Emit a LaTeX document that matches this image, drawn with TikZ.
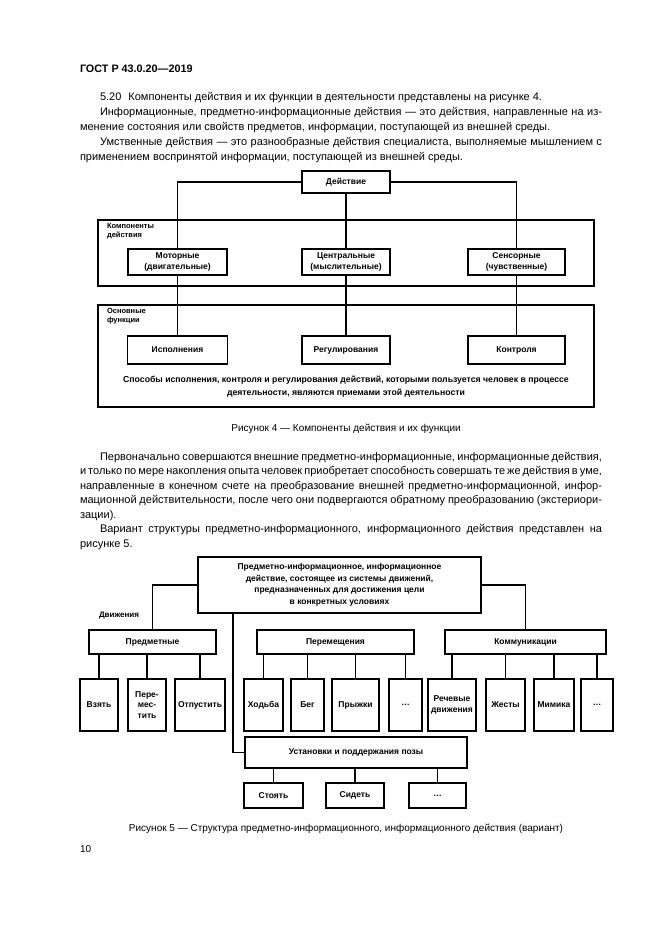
\documentclass[tikz,border=0pt]{standalone}
\usepackage{fontspec}
\setmainfont{Liberation Sans}
\newcommand{\jfull}[1]{\makebox[522pt][s]{#1}}
\newcommand{\jind}[1]{\makebox[502pt][s]{#1}}
\begin{document}
\begin{tikzpicture}[x=1pt,y=-1pt,
  every node/.style={inner sep=0pt, outer sep=0pt},
  body/.style={anchor=base west, font=\fontsize{11}{15}\selectfont},
  figcaption/.style={anchor=base, font=\fontsize{10}{12}\selectfont},
  dtext/.style={font=\fontsize{8.5}{10.5}\selectfont\bfseries, align=center},
  hbox/.style={draw, line width=1.8pt, dtext},
  lbox/.style={draw, line width=1.3pt, dtext},
  frame/.style={line width=1.3pt},
  lab/.style={anchor=north west, align=left, font=\fontsize{7.5}{9.5}\selectfont\bfseries},
  conn/.style={line width=1.2pt},
  tconn/.style={line width=1.9pt},
]
\useasboundingbox (0,0) rectangle (661,935);
\fill[white] (0,0) rectangle (661,935);

% header
\node[anchor=base west, font=\fontsize{10.8}{13}\selectfont\bfseries] (hdr) at (80,72) {ГОСТ Р 43.0.20—2019};

% paragraph 1
\node[body] (p1a) at (100,100) {5.20\hspace{4pt} Компоненты действия и их функции в деятельности представлены на рисунке 4.};
\node[body] (p1b) at (100,115) {\jind{Информационные, предметно-информационные действия — это действия, направленные на из-}};
\node[body] (p1c) at (80,130) {менение состояния или свойств предметов, информации, поступающей из внешней среды.};
\node[body] (p1d) at (100,145) {\jind{Умственные действия — это разнообразные действия специалиста, выполняемые мышлением с}};
\node[body] (p1e) at (80,160) {применением воспринятой информации, поступающей из внешней среды.};

% ---------- Figure 4 ----------
\node[hbox, minimum width=88, minimum height=22] (act) at (346,182) {Действие};
\draw[frame] (98,220) rectangle (594,286);
\node[lab] (complab) at (107,223) {Компоненты\\действия};
\node[hbox, minimum width=99, minimum height=26] (mot) at (177.5,262) {Моторные\\(двигательные)};
\node[hbox, minimum width=88, minimum height=26] (cen) at (346,262) {Центральные\\(мыслительные)};
\node[hbox, minimum width=97, minimum height=26] (sen) at (516.5,262) {Сенсорные\\(чувственные)};
\draw[frame] (98,305) rectangle (594,407);
\node[lab] (funlab) at (107,308) {Основные\\функции};
\node[hbox, minimum width=100, minimum height=28] (isp) at (177.5,350) {Исполнения};
\node[hbox, minimum width=88, minimum height=28] (reg) at (346,350) {Регулирования};
\node[hbox, minimum width=97, minimum height=28] (kon) at (516.5,350) {Контроля};
\node[dtext, font=\fontsize{8.7}{13}\selectfont\bfseries] (way) at (346,387) {Способы исполнения, контроля и регулирования действий, которыми пользуется человек в процессе\\деятельности, являются приемами этой деятельности};

\draw[conn, line width=1.5pt] (act.west) -| (mot.north);
\draw[conn, line width=1.5pt] (act.east) -| (sen.north);
\draw[tconn] (act.south) -- (cen.north);
\draw[conn, line width=1.5pt] (mot.south) -- (isp.north);
\draw[tconn] (cen.south) -- (reg.north);
\draw[conn, line width=1.5pt] (sen.south) -- (kon.north);

\node[figcaption] (cap4) at (346,431) {Рисунок 4 — Компоненты действия и их функции};

% paragraph 2
\node[body] (p2a) at (100,460) {\jind{Первоначально совершаются внешние предметно-информационные, информационные действия,}};
\node[body] (p2b) at (80,474.5) {\jfull{и только по мере накопления опыта человек приобретает способность совершать те же действия в уме,}};
\node[body] (p2c) at (80,489) {\jfull{направленные в конечном счете на преобразование внешней предметно-информационной, инфор-}};
\node[body] (p2d) at (80,503.5) {\jfull{мационной действительности, после чего они подвергаются обратному преобразованию (экстериори-}};
\node[body] (p2e) at (80,518) {зации).};
\node[body] (p2f) at (100,532.5) {\jind{Вариант структуры предметно-информационного, информационного действия представлен на}};
\node[body] (p2g) at (80,547) {рисунке 5.};

% ---------- Figure 5 ----------
\node[hbox, minimum width=283, minimum height=56, font=\fontsize{8.5}{11.5}\selectfont\bfseries] (top) at (339.5,585) {Предметно-информационное, информационное\\действие, состоящее из системы движений,\\предназначенных для достижения цели\\в конкретных условиях};
\node[anchor=west, font=\fontsize{8}{10}\selectfont\bfseries] (mov) at (99,616) {Движения};

\node[hbox, minimum width=127, minimum height=24] (pred) at (152.5,642) {Предметные};
\node[hbox, minimum width=157, minimum height=24] (perem) at (335.5,642) {Перемещения};
\node[hbox, minimum width=161, minimum height=24] (komm) at (525.5,642) {Коммуникации};

\draw[conn, line width=1.4pt] (top.west) -| (pred.north);
\draw[conn, line width=1.4pt] (top.east) -| (komm.north);

% leaves
\node[lbox, minimum width=38, minimum height=52] (vz) at (99,705) {Взять};
\node[lbox, minimum width=38, minimum height=52] (pm) at (147,705) {Пере-\\мес-\\тить};
\node[lbox, minimum width=50, minimum height=52] (ot) at (200,705) {Отпустить};
\node[lbox, minimum width=39, minimum height=52] (hd) at (263.5,705) {Ходьба};
\node[lbox, minimum width=33, minimum height=52] (bg) at (307.5,705) {Бег};
\node[lbox, minimum width=47, minimum height=52] (pr) at (355.5,705) {Прыжки};
\node[lbox, minimum width=33, minimum height=52] (d1) at (405.5,705) {…};
\node[lbox, minimum width=48, minimum height=52] (rd) at (452,705) {Речевые\\движения};
\node[lbox, minimum width=39, minimum height=52] (zh) at (505.5,705) {Жесты};
\node[lbox, minimum width=40, minimum height=52] (mm) at (554,705) {Мимика};
\node[lbox, minimum width=32, minimum height=52] (d2) at (597,705) {…};

\draw[conn] (vz.north) -- (vz.north |- pred.south);
\draw[conn] (pm.north) -- (pm.north |- pred.south);
\draw[tconn] (ot.north) -- (ot.north |- pred.south);
\draw[conn] (hd.north) -- (hd.north |- perem.south);
\draw[conn] (bg.north) -- (bg.north |- perem.south);
\draw[conn] (pr.north) -- (pr.north |- perem.south);
\draw[tconn] (d1.north) -- (d1.north |- perem.south);
\draw[conn] (rd.north) -- (rd.north |- komm.south);
\draw[conn] (zh.north) -- (zh.north |- komm.south);
\draw[conn] (mm.north) -- (mm.north |- komm.south);
\draw[tconn] (d2.north) -- (d2.north |- komm.south);

% posture
\node[hbox, minimum width=222, minimum height=31] (ust) at (356,752.5) {Установки и поддержания позы};
\draw[conn, line width=1.4pt] ([xshift=-106.5pt]top.south) |- (ust.west);

\node[hbox, minimum width=59, minimum height=25] (st) at (273.5,795.5) {Стоять};
\node[hbox, minimum width=58, minimum height=25] (sd) at (355,795.5) {Сидеть};
\node[hbox, minimum width=57, minimum height=25] (d3) at (437.5,795.5) {…};
\draw[tconn] (st.north) -- (st.north |- ust.south);
\draw[tconn] (sd.north) -- (sd.north |- ust.south);
\draw[tconn] (d3.north) -- (d3.north |- ust.south);

\node[figcaption] (cap5) at (346,831) {Рисунок 5 — Структура предметно-информационного, информационного действия (вариант)};

\node[anchor=base west, font=\fontsize{10}{12}\selectfont] (pg) at (80,852) {10};
\end{tikzpicture}
\end{document}
